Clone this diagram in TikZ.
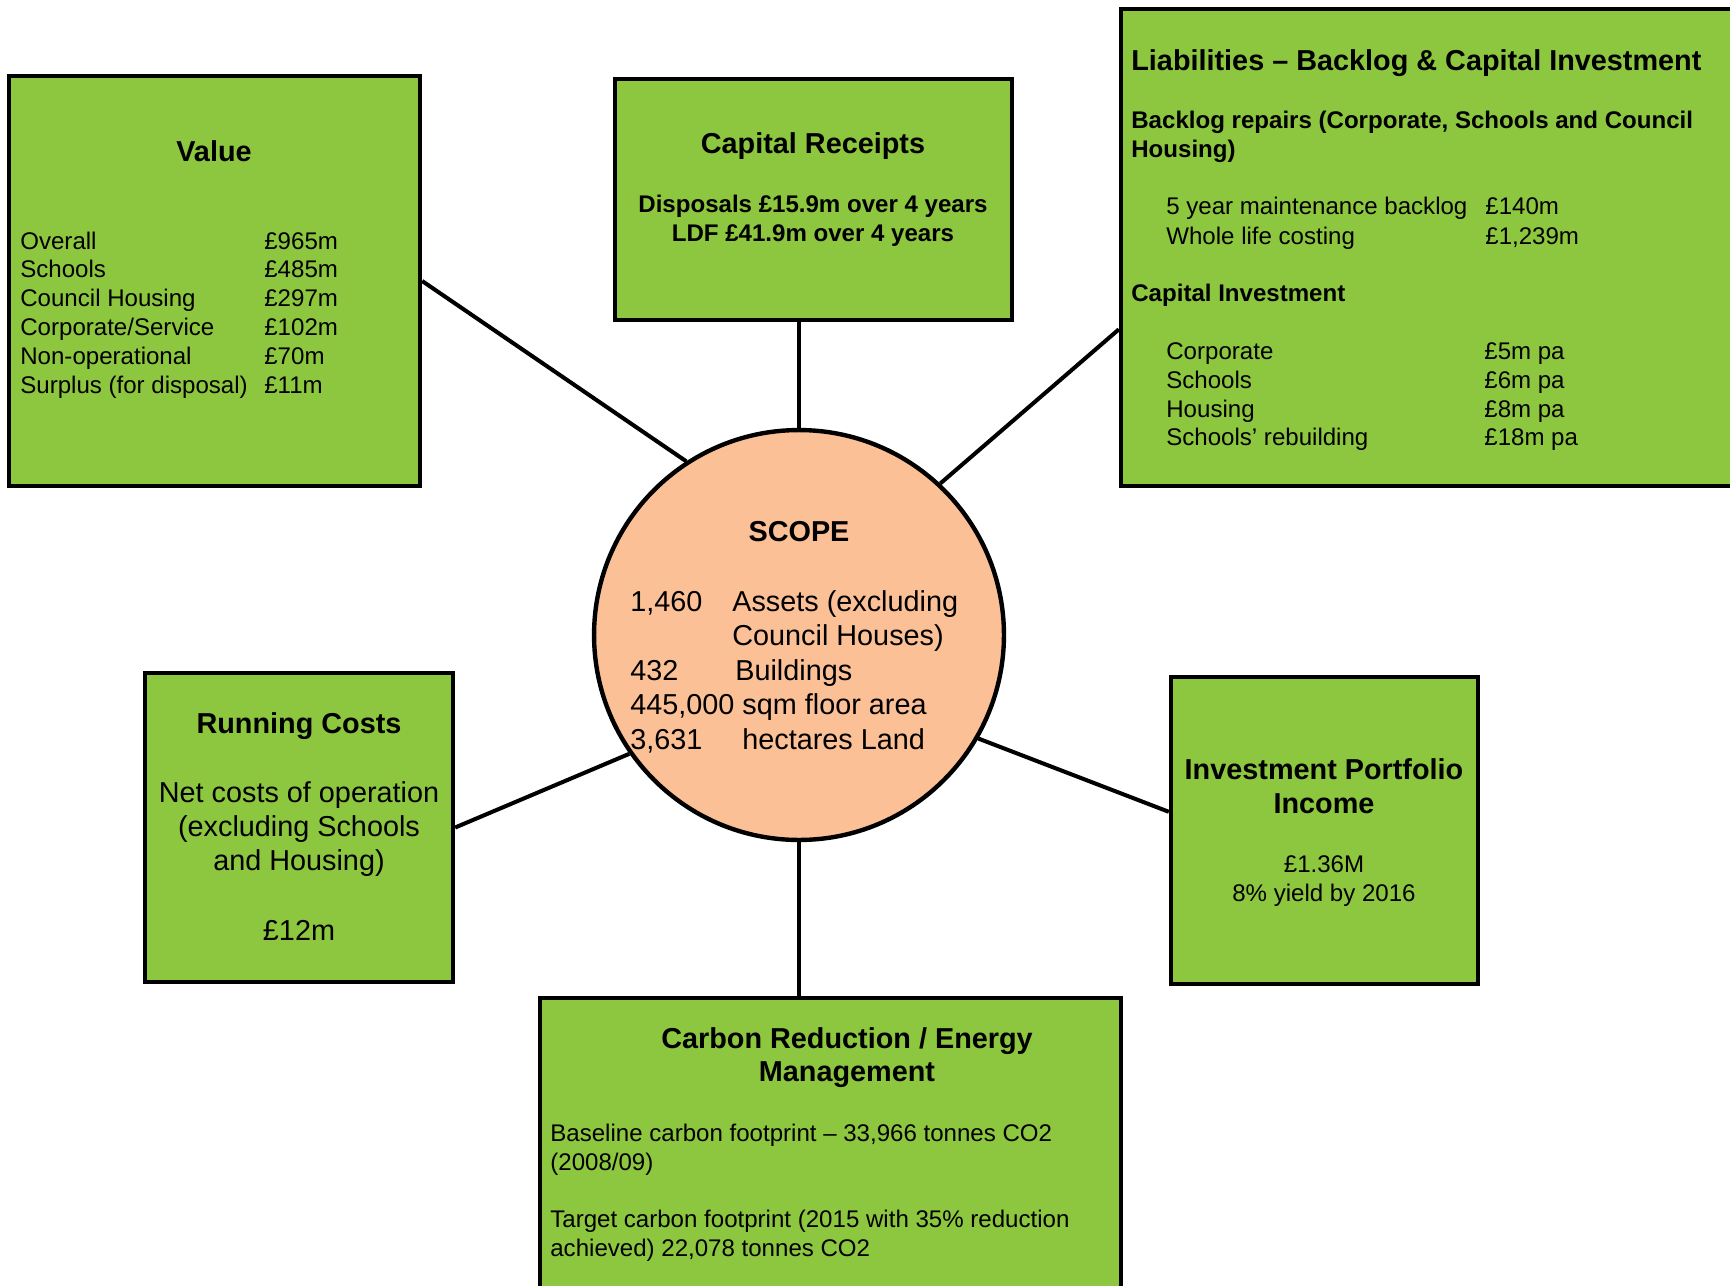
\documentclass[tikz,border=0pt]{standalone}
\usepackage{fontspec}
\setmainfont{Liberation Sans}
\usetikzlibrary{calc}

\definecolor{boxgreen}{RGB}{141,198,63}
\definecolor{scopepeach}{RGB}{251,192,150}

\tikzset{
	box/.style={draw, fill=boxgreen, line width=2.5pt, inner sep=0pt},
	link/.style={line width=2.3pt},
	head/.style={font=\fontsize{16.4}{19.6}\selectfont\bfseries, inner sep=0pt, anchor=base},
	subhead/.style={font=\fontsize{13.7}{16.6}\selectfont\bfseries, inner sep=0pt, anchor=base west},
	plain/.style={font=\fontsize{13.7}{16.3}\selectfont, inner sep=0pt, anchor=base west},
	big/.style={font=\fontsize{16.4}{19.6}\selectfont, inner sep=0pt, anchor=base west}
}

\begin{document}
\begin{tikzpicture}[x=0.02cm, y=-0.02cm]
	\useasboundingbox (0,0) rectangle (1730,1285);
	\clip (0,0) rectangle (1730,1285);

	% boxes and the scope circle
	\node[box, minimum width=8.22cm, minimum height=8.2cm] (value) at (214.5,281) {};
	\node[box, minimum width=7.94cm, minimum height=4.82cm] (receipts) at (813.5,199.5) {};
	\node[box, minimum width=12.78cm, minimum height=9.54cm] (liab) at (1440.5,247.5) {};
	\node[box, minimum width=6.16cm, minimum height=6.18cm] (running) at (299,827.5) {};
	\node[box, minimum width=6.14cm, minimum height=6.14cm] (invest) at (1324.5,830.5) {};
	\node[box, minimum width=11.62cm, minimum height=6.04cm] (carbon) at (830.5,1149) {};
	\node[circle, draw, fill=scopepeach, line width=2.5pt, minimum size=8.2cm, inner sep=0pt] (scope) at (799,635) {};

	% connectors
	\draw[link] (value.east) -- (scope.123);
	\draw[link] (scope.north) -- (scope.north |- receipts.south);
	\draw[link] ($(liab.north west)!0.67!(liab.south west)$) -- (scope.47);
	\draw[link] (running.east) -- (scope.215);
	\draw[link] ($(invest.north west)!0.44!(invest.south west)$) -- (scope.330);
	\draw[link] (scope.south) -- (scope.south |- carbon.north);

	% value
	\node[head] (valuehead) at (214,161) {Value};
	\foreach \name/\amount [count=\k] in {Overall/£965m, Schools/£485m, Council Housing/£297m, {Corporate/Service}/£102m, Non-operational/£70m, Surplus (for disposal)/£11m} {
		\node[plain] (valuename\k) at (20,{249+28.8*(\k-1)}) {\name};
		\node[plain] (valueamount\k) at (264,{249+28.8*(\k-1)}) {\amount};
	}

	% capital receipts
	\node[head] (receiptshead) at (813,153) {Capital Receipts};
	\node[subhead, anchor=base] (receiptsdisp) at (813,212.6) {Disposals £15.9m over 4 years};
	\node[subhead, anchor=base] (receiptsldf) at (813,241.4) {LDF £41.9m over 4 years};

	% liabilities
	\node[head, anchor=base west] (liabhead) at (1131,70) {Liabilities – Backlog \& Capital Investment};
	\node[subhead] (liabbacklog) at (1131,128) {Backlog repairs (Corporate, Schools and Council};
	\node[subhead] (liabhousing) at (1131,157.8) {Housing)};
	\foreach \name/\amount [count=\k] in {5 year maintenance backlog/£140m, Whole life costing/{£1,239m}} {
		\node[plain] (liabname\k) at (1166,{214.6+29.8*(\k-1)}) {\name};
		\node[plain] (liabamount\k) at (1485,{214.6+29.8*(\k-1)}) {\amount};
	}
	\node[subhead] (liabcapital) at (1131,301) {Capital Investment};
	\foreach \name/\amount [count=\k] in {Corporate/£5m pa, Schools/£6m pa, Housing/£8m pa, Schools’ rebuilding/£18m pa} {
		\node[plain] (capname\k) at (1166,{359.6+28.7*(\k-1)}) {\name};
		\node[plain] (capamount\k) at (1484,{359.6+28.7*(\k-1)}) {\amount};
	}

	% scope
	\node[head] (scopehead) at (799,541) {SCOPE};
	\node[big] (scopenum1) at (630,611) {1,460};
	\node[big] (scopewhat1) at (732,611) {Assets (excluding};
	\node[big] (scopewhat2) at (732,645.5) {Council Houses)};
	\node[big] (scopenum3) at (630,680) {432};
	\node[big] (scopewhat3) at (735,680) {Buildings};
	\node[big] (scopenum4) at (630,714.5) {445,000 sqm floor area};
	\node[big] (scopenum5) at (630,749) {3,631};
	\node[big] (scopewhat5) at (742,749) {hectares Land};

	% running costs
	\node[head] (runninghead) at (299,733) {Running Costs};
	\node[big, anchor=base] (runningline1) at (299,802.5) {Net costs of operation};
	\node[big, anchor=base] (runningline2) at (299,836.7) {(excluding Schools};
	\node[big, anchor=base] (runningline3) at (299,870.9) {and Housing)};
	\node[big, anchor=base] (runningsum) at (299,940.5) {£12m};

	% investment portfolio
	\node[head] (investhead1) at (1324,779.3) {Investment Portfolio};
	\node[head] (investhead2) at (1324,813.3) {Income};
	\node[plain, anchor=base] (investsum) at (1324,872.6) {£1.36M};
	\node[plain, anchor=base] (investyield) at (1324,901.2) {8\% yield by 2016};

	% carbon
	\node[head] (carbonhead1) at (847,1048.5) {Carbon Reduction / Energy};
	\node[head] (carbonhead2) at (847,1081.6) {Management};
	\node[plain] (carbonbase1) at (550,1141.7) {Baseline carbon footprint – 33,966 tonnes CO2};
	\node[plain] (carbonbase2) at (550,1170.4) {(2008/09)};
	\node[plain] (carbontarget1) at (550,1227.8) {Target carbon footprint (2015 with 35\% reduction};
	\node[plain] (carbontarget2) at (550,1256.5) {achieved) 22,078 tonnes CO2};
\end{tikzpicture}
\end{document}
